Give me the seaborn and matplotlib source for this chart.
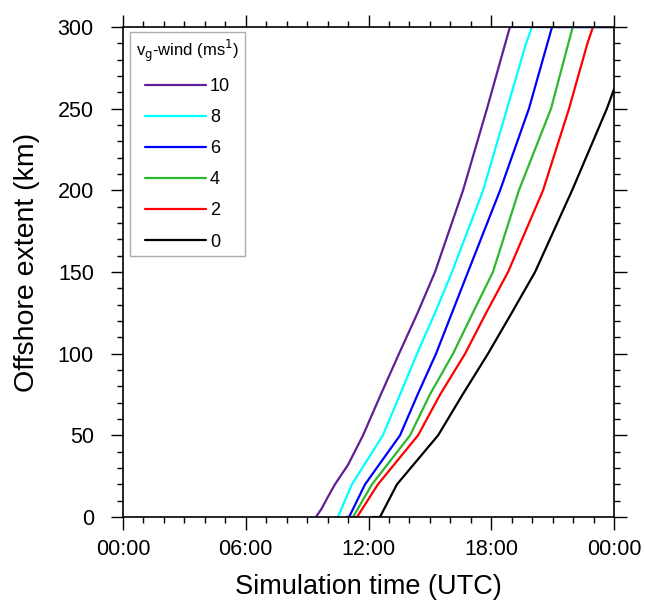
import pandas as pd
import matplotlib.pyplot as plt
import seaborn as sns
import numpy as np
from matplotlib.ticker import MultipleLocator, FuncFormatter

sns.set_style('ticks')
plt.rcParams['font.family'] = ['Liberation Sans', 'DejaVu Sans']
plt.rcParams.update({'text.color': 'black', 'axes.labelcolor': 'black',
                     'xtick.color': 'black', 'ytick.color': 'black',
                     'axes.edgecolor': 'black'})

# time in hours, offshore extent in km
t_10 = [9.43, 9.7, 10.0, 10.36, 11.0, 11.73, 12.6, 13.49, 14.4, 15.25, 16.62, 17.79, 18.91, 24.0]
d_10 = [0, 5, 12, 20, 32, 50, 75, 100, 125, 150, 200, 250, 300, 300]
t_8 = [10.4, 10.5, 11.19, 12.7, 13.54, 14.37, 15.25, 16.08, 17.6, 18.77, 19.7, 19.99, 24.0]
d_8 = [0, 0, 20, 50, 75, 100, 125, 150, 200, 250, 290, 300, 300]
t_6 = [10.95, 11.05, 11.83, 13.54, 14.4, 15.30, 16.08, 16.86, 18.43, 19.84, 20.97, 24.0]
d_6 = [0, 0, 20, 50, 75, 100, 125, 150, 200, 250, 300, 300]
t_4 = [11.15, 11.24, 12.17, 14.03, 15.0, 16.13, 17.1, 18.08, 19.35, 20.92, 21.98, 24.0]
d_4 = [0, 0, 20, 50, 75, 100, 125, 150, 200, 250, 300, 300]
t_2 = [11.35, 11.44, 12.46, 14.42, 15.5, 16.72, 17.75, 18.82, 20.53, 21.8, 22.7, 22.97, 24.0]
d_2 = [0, 0, 20, 50, 75, 100, 125, 150, 200, 250, 290, 300, 300]
t_0 = [12.2, 12.56, 13.39, 15.4, 16.6, 17.84, 19.0, 20.14, 21.95, 23.65, 24.0]
d_0 = [0, 0, 20, 50, 75, 100, 125, 150, 200, 250, 262]

winds = [0, 2, 4, 6, 8, 10]
times = [t_0, t_2, t_4, t_6, t_8, t_10]
dists = [d_0, d_2, d_4, d_6, d_8, d_10]
colors = ['black', '#ff0000', '#2db82d', '#0000ff', '#00ffff', '#5f1f96']

rows = []
for w, t, d in zip(winds, times, dists):
    for i in range(len(t)):
        rows.append({'time': t[i], 'extent': d[i], 'wind': str(w)})
df = pd.DataFrame(rows)

fig = plt.figure(figsize=(6.45, 6.04), dpi=100)
ax = fig.add_axes([0.1907, 0.144, 0.7613, 0.8113])

sns.lineplot(data=df, x='time', y='extent', hue='wind', hue_order=[str(w) for w in winds],
             palette=colors, sort=False, estimator=None, units='wind', linewidth=1.6, ax=ax)

ax.set_xlim(0, 24)
ax.set_ylim(0, 300)
ax.xaxis.set_major_locator(MultipleLocator(6))
ax.xaxis.set_minor_locator(MultipleLocator(1))
ax.yaxis.set_major_locator(MultipleLocator(50))
ax.yaxis.set_minor_locator(MultipleLocator(10))
ax.xaxis.set_major_formatter(FuncFormatter(lambda v, p: '%02d:00' % (int(v) % 24)))
ax.tick_params(which='both', direction='out', top=True, right=True, width=1.0, labelsize=15.5)
ax.tick_params(which='major', length=9)
ax.tick_params(which='minor', length=4)
ax.tick_params(axis='x', which='major', pad=7)
ax.tick_params(axis='y', which='major', pad=12)
for s in ax.spines.values():
    s.set_linewidth(1.2)
    s.set_visible(True)

ax.set_xlabel('Simulation time (UTC)', fontsize=19.5, labelpad=10)
ax.set_ylabel('Offshore extent (km)', fontsize=20.5)
ax.yaxis.set_label_coords(-0.17, 0.52)

handles, labels = ax.get_legend_handles_labels()
leg = ax.legend(handles[::-1], labels[::-1], title=r'v$_\mathrm{g}$-wind (ms$^1$)',
                loc='upper left', bbox_to_anchor=(0.0143, 0.9898), fontsize=13, title_fontsize=12,
                handlelength=3.4, handletextpad=0.2, labelspacing=0.78, borderpad=0.32,
                borderaxespad=0, fancybox=False, frameon=True, edgecolor='#999999')
leg.get_frame().set_linewidth(1.0)
leg._legend_box.align = 'center'

fig.savefig('out.png', dpi=100)
